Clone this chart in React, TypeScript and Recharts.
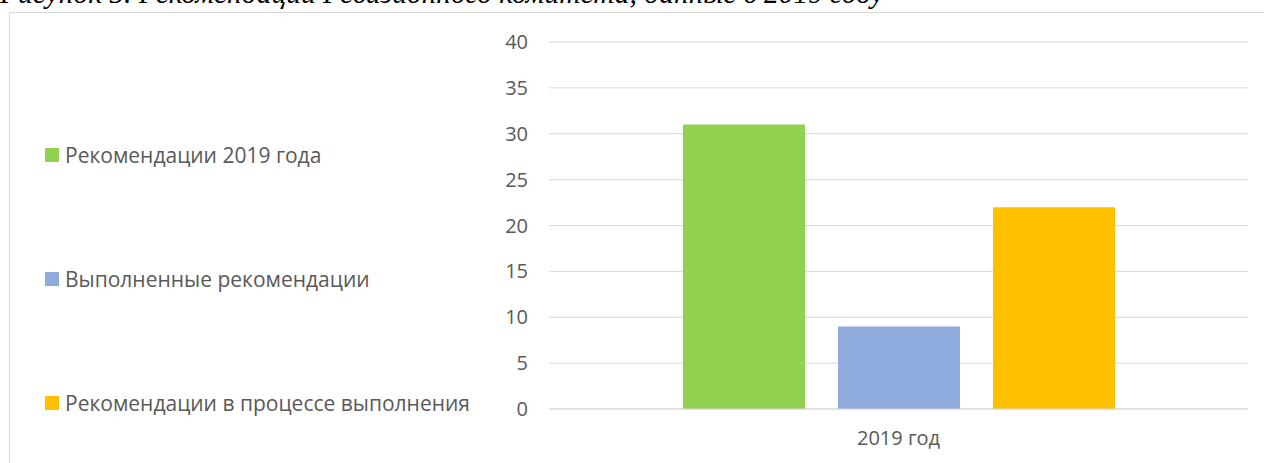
import React from 'react'
import { BarChart, Bar, XAxis, YAxis, CartesianGrid } from 'recharts'

const categories = ['2019 год']
const seriesNames = ['Рекомендации 2019 года', 'Выполненные рекомендации', 'Рекомендации в процессе выполнения']
const recs2019 = [31]
const recsDone = [9]
const recsInProgress = [22]
const yTicks = [0, 5, 10, 15, 20, 25, 30, 35, 40]

const colors = ['#92d050', '#8faadc', '#ffc000']
const keys = ['recs2019', 'recsDone', 'recsInProgress']

const data = categories.map((name, i) => ({
  name,
  recs2019: recs2019[i],
  recsDone: recsDone[i],
  recsInProgress: recsInProgress[i],
}))

const font = '"Open Sans", "Noto Sans", sans-serif'

function LegendBox() {
  return (
    <div style={{ position: 'absolute', left: 45, top: 143, fontFamily: font, fontSize: 21, color: '#595959' }}>
      {seriesNames.map((n, i) => (
        <div
          key={n}
          style={{ display: 'flex', alignItems: 'center', height: 24, marginBottom: i < 2 ? 100 : 0 }}
        >
          <span style={{ width: 14, height: 14, background: colors[i], marginRight: 6, display: 'inline-block' }} />
          <span style={{ whiteSpace: 'nowrap' }}>{n}</span>
        </div>
      ))}
    </div>
  )
}

export default function App() {
  return (
    <div style={{ position: 'absolute', left: 0, top: 0, width: 1264, height: 463, overflow: 'hidden', background: '#fff' }}>
      {/* подпись рисунка, обрезана сверху */}
      <div
        style={{
          position: 'absolute',
          left: 0,
          top: -21,
          fontFamily: '"Liberation Serif", "Times New Roman", serif',
          fontStyle: 'italic',
          fontSize: 29.5,
          lineHeight: 1,
          whiteSpace: 'nowrap',
          color: '#000',
        }}
      >
        Рисунок 5. Рекомендации Ревизионного комитета, данные в 2019 году
      </div>
      <div
        style={{
          position: 'absolute',
          left: 9,
          top: 12,
          width: 1300,
          height: 500,
          border: '1px solid #d9d9d9',
        }}
      />
      <LegendBox />
      <div style={{ position: 'absolute', left: 0, top: 0 }}>
        <BarChart
          width={1264}
          height={463}
          data={data}
          margin={{ top: 42, right: 16, left: 489, bottom: 14 }}
          barGap={33}
          barCategoryGap={134}
        >
          <CartesianGrid vertical={false} stroke="#d9d9d9" />
          <XAxis
            dataKey="name"
            height={40}
            axisLine={{ stroke: '#d9d9d9' }}
            tickLine={false}
            tickSize={0}
            tickMargin={22}
            tick={{ fill: '#595959', fontSize: 20, fontFamily: font }}
          />
          <YAxis
            width={60}
            domain={[0, 40]}
            ticks={yTicks}
            interval={0}
            axisLine={false}
            tickLine={false}
            tickSize={0}
            tickMargin={21}
            tick={{ fill: '#595959', fontSize: 20, fontFamily: font }}
          />
          {keys.map((k, i) => (
            <Bar key={k} dataKey={k} name={seriesNames[i]} fill={colors[i]} barSize={122} isAnimationActive={false} />
          ))}
        </BarChart>
      </div>
    </div>
  )
}
